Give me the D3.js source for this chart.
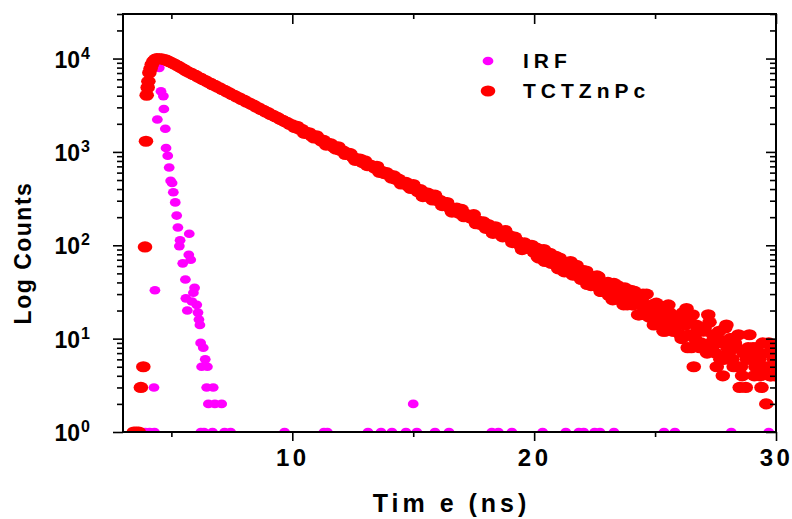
<!DOCTYPE html>
<html>
<head>
<meta charset="utf-8">
<script src="https://cdn.jsdelivr.net/npm/d3@7"></script>
<style>
  body { margin: 0; background: #fff; }
  svg { display: block; }
  text { font-family: "Liberation Sans", Arial, sans-serif; font-weight: bold; fill: #000; }
</style>
</head>
<body>
<div id="chart"></div>
<script>
// axis setup
const xDomain = [3, 30];
const yDomain = [1, 30000];
const xMajorTicks = [10, 20, 30];
const xMinorTicks = [5, 15, 25];
const yDecades = [1, 10, 100, 1000, 10000];
const yExponents = ['0', '1', '2', '3', '4'];
const yMinorTicks = [2, 3, 4, 5, 6, 7, 8, 9,
    20, 30, 40, 50, 60, 70, 80, 90,
    200, 300, 400, 500, 600, 700, 800, 900,
    2000, 3000, 4000, 5000, 6000, 7000, 8000, 9000,
    20000, 30000];

const seriesNames = ['IRF', 'TCTZnPc'];
const seriesColors = ['#ff00ff', '#ff0000'];

// IRF: [time ns, counts]
const irfData = [
    [3.92, 1], [4.10, 1], [4.30, 1], [4.28, 3], [4.32, 33], [4.42, 2220], [4.50, 7950],
    [4.57, 4470], [4.67, 3960], [4.69, 2880], [4.75, 1770], [4.78, 1100], [4.85, 910],
    [4.91, 680], [4.97, 490], [5.03, 465], [5.08, 370], [5.16, 288], [5.22, 208],
    [5.27, 155], [5.33, 98], [5.36, 113], [5.47, 64], [5.58, 43], [5.60, 27], [5.66, 20],
    [5.72, 79], [5.74, 133], [5.80, 70], [5.85, 25], [5.91, 31], [5.96, 35], [6.05, 23],
    [6.10, 19], [6.14, 16], [6.18, 14], [6.21, 9], [6.25, 5], [6.32, 8], [6.40, 6],
    [6.46, 3], [6.49, 5], [6.53, 2], [6.73, 3], [6.80, 2], [7.08, 2],
    [6.22, 1], [6.35, 1], [6.70, 1], [7.20, 1], [7.45, 1], [9.68, 1], [11.31, 1],
    [11.45, 1], [13.13, 1], [13.67, 1], [14.12, 1], [14.70, 1], [15.00, 2], [15.15, 1],
    [15.90, 1], [16.48, 1], [18.25, 1], [18.52, 1], [19.08, 1], [20.35, 1], [21.31, 1],
    [21.85, 1], [22.05, 1], [22.50, 1], [22.72, 1], [23.30, 1], [25.37, 1], [25.82, 1],
    [28.15, 1], [29.70, 1]
];

// TCTZnPc decay: [time ns, counts]
const tctData = [
    [3.45, 1], [3.55, 1], [3.65, 1], [3.74, 3], [3.84, 5], [3.91, 96], [3.95, 1300],
    [3.98, 4050], [4.02, 4900], [4.05, 5700], [4.09, 7050], [4.14, 7800], [4.19, 8650],
    [4.26, 9350], [4.33, 9800],
    [4.4, 10000], [4.5, 9950], [4.6, 9900], [4.7, 9750], [4.8, 9600], [4.9, 9300],
    [5.0, 9050], [5.1, 8800], [5.2, 8500], [5.3, 8250], [5.4, 7950], [5.5, 7700],
    [5.6, 7400], [5.7, 7150], [5.8, 6990], [5.9, 6740],
    [6.0, 6600], [6.1, 6330], [6.2, 6180], [6.3, 5950], [6.4, 5820], [6.5, 5590], [6.6, 5470], [6.7, 5250], [6.8, 5150], [6.9, 4940],
    [7.0, 4850], [7.1, 4660], [7.2, 4560], [7.3, 4390], [7.4, 4290], [7.5, 4110], [7.6, 4030], [7.7, 3880], [7.8, 3800], [7.9, 3640],
    [8.0, 3580], [8.1, 3430], [8.2, 3360], [8.3, 3230], [8.4, 3170], [8.5, 3030], [8.6, 2970], [8.7, 2850], [8.8, 2790], [8.9, 2680],
    [9.0, 2630], [9.1, 2520], [9.2, 2470], [9.3, 2380], [9.4, 2330], [9.5, 2230], [9.6, 2180], [9.7, 2100], [9.8, 2060], [9.9, 1970],
    [10.0, 1946], [10.1, 1819], [10.2, 1883], [10.3, 1745], [10.4, 1739], [10.5, 1578], [10.6, 1606], [10.7, 1603], [10.8, 1479], [10.9, 1409],
    [11.0, 1487], [11.1, 1383], [11.2, 1304], [11.3, 1327], [11.4, 1183], [11.5, 1231], [11.6, 1218], [11.7, 1130], [11.8, 1072], [11.9, 1136],
    [12.0, 1037], [12.1, 1025], [12.2, 938], [12.3, 971], [12.4, 958], [12.5, 879], [12.6, 812], [12.7, 838], [12.8, 838], [12.9, 769],
    [13.0, 804], [13.1, 714], [13.2, 725], [13.3, 711], [13.4, 670], [13.5, 702], [13.6, 605], [13.7, 620], [13.8, 585], [13.9, 599],
    [14.0, 569], [14.1, 524], [14.2, 554], [14.3, 506], [14.4, 510], [14.5, 453], [14.6, 468], [14.7, 471], [14.8, 428], [14.9, 406],
    [15.0, 447], [15.1, 404], [15.2, 374], [15.3, 394], [15.4, 332], [15.5, 361], [15.6, 362], [15.7, 326], [15.8, 306], [15.9, 344],
    [16.0, 301], [16.1, 303], [16.2, 266], [16.3, 287], [16.4, 287], [16.5, 254], [16.6, 227], [16.7, 244], [16.8, 250], [16.9, 220],
    [17.0, 242], [17.1, 202], [17.2, 213], [17.3, 209], [17.4, 194], [17.5, 213], [17.6, 170], [17.7, 181], [17.8, 167], [17.9, 178],
    [18.0, 152], [18.1, 167], [18.2, 155], [18.3, 134], [18.4, 158], [18.5, 136], [18.6, 141], [18.7, 123], [18.8, 144], [18.9, 123],
    [19.0, 126], [19.1, 107], [19.2, 122], [19.3, 111], [19.4, 101], [19.5, 90], [19.6, 106], [19.7, 100], [19.8, 92], [19.9, 100],
    [20.0, 84], [20.1, 93], [20.2, 73], [20.3, 82], [20.4, 90], [20.5, 70], [20.6, 73], [20.7, 64], [20.8, 74], [20.9, 76],
    [21.0, 56], [21.1, 65], [21.2, 66], [21.3, 56], [21.4, 56], [21.5, 67], [21.6, 48], [21.7, 54], [21.8, 47], [21.9, 50],
    [22.0, 54], [22.1, 44], [22.2, 38], [22.3, 47], [22.4, 43], [22.5, 37], [22.6, 47], [22.7, 38], [22.8, 32], [22.9, 39],
    [23.0, 39], [23.1, 29], [23.2, 33], [23.3, 39], [23.4, 29], [23.5, 29], [23.6, 33], [23.7, 23], [23.8, 28], [23.9, 24],
    [24.0, 33], [24.1, 23], [24.2, 25], [24.3, 18], [24.4, 27], [24.5, 30], [24.6, 18], [24.7, 21], [24.8, 18], [24.9, 23],
    [25.0, 15], [25.1, 20], [25.2, 17], [25.3, 22], [25.4, 12], [25.5, 17], [25.6, 19], [25.7, 13], [25.8, 12], [25.9, 17],
    [26.0, 16], [26.1, 10], [26.2, 17], [26.3, 21], [26.4, 11], [26.5, 8], [26.6, 5], [26.7, 14], [26.8, 9], [26.9, 9],
    [27.0, 12], [27.1, 8], [27.2, 18], [27.3, 9], [27.4, 11], [27.5, 7], [27.6, 10], [27.7, 6], [27.8, 4], [27.9, 13],
    [28.0, 8], [28.1, 10], [28.2, 6], [28.3, 9], [28.4, 5], [28.5, 3], [28.6, 4], [28.7, 7], [28.8, 6], [28.9, 11],
    [29.0, 7], [29.1, 4], [29.2, 8], [29.3, 6], [29.4, 3], [29.5, 5], [29.6, 2], [29.7, 9], [29.8, 4], [29.9, 6],
    [30.0, 5],
    // in-between channels of the noisy tail
    [20.05, 91], [20.15, 75], [20.25, 89], [20.35, 76], [20.45, 67], [20.55, 80], [20.65, 82], [20.75, 66], [20.85, 69], [20.95, 60],
    [21.05, 73], [21.15, 59], [21.25, 52], [21.35, 62], [21.45, 63], [21.55, 50], [21.65, 55], [21.75, 61], [21.85, 49], [21.95, 43],
    [22.05, 43], [22.15, 53], [22.25, 46], [22.35, 37], [22.45, 46], [22.55, 39], [22.65, 46], [22.75, 32], [22.85, 37], [22.95, 39],
    [23.05, 40], [23.15, 32], [23.25, 26], [23.35, 34], [23.45, 37], [23.55, 26], [23.65, 29], [23.75, 35], [23.85, 23], [23.95, 28],
    [24.05, 23], [24.15, 32], [24.25, 25], [24.35, 18], [24.45, 26], [24.55, 21], [24.65, 30], [24.75, 17], [24.85, 22], [24.95, 14],
    [25.05, 24], [25.15, 15], [25.25, 19], [25.35, 12], [25.45, 20], [25.55, 23], [25.65, 14], [25.75, 12], [25.85, 17], [25.95, 14],
    [26.05, 11], [26.15, 19], [26.25, 14], [26.35, 8], [26.45, 15], [26.55, 18], [26.65, 10], [26.75, 12], [26.85, 8], [26.95, 13],
    [27.05, 13], [27.15, 7], [27.25, 15], [27.35, 8], [27.45, 10], [27.55, 5], [27.65, 12], [27.75, 9], [27.85, 6], [27.95, 14],
    [28.05, 7], [28.15, 10], [28.25, 5], [28.35, 8], [28.45, 11], [28.55, 5], [28.65, 7], [28.75, 3], [28.85, 8], [28.95, 6],
    [29.05, 8], [29.15, 5], [29.25, 7], [29.35, 4], [29.45, 9], [29.55, 5], [29.65, 7], [29.75, 4], [29.85, 8], [29.95, 4]
];

const width = 792;
const height = 519;
const plot = { left: 123, right: 776, top: 14, bottom: 432 };

const svg = d3.select('#chart')
    .append('svg')
    .attr('width', width)
    .attr('height', height);

const xScale = d3.scaleLinear().domain(xDomain).range([plot.left, plot.right]);
const yScale = d3.scaleLog().domain(yDomain).range([plot.bottom, plot.top]);

svg.append('clipPath')
    .attr('id', 'plot-clip')
    .append('rect')
    .attr('x', plot.left)
    .attr('y', plot.top)
    .attr('width', plot.right - plot.left)
    .attr('height', plot.bottom - plot.top);

// scatter points, IRF underneath
const dots = svg.append('g').attr('clip-path', 'url(#plot-clip)');

dots.selectAll('ellipse.irf')
    .data(irfData)
    .join('ellipse')
    .attr('class', 'irf')
    .attr('cx', d => xScale(d[0]))
    .attr('cy', d => yScale(d[1]))
    .attr('rx', 5.4)
    .attr('ry', 4.3)
    .attr('fill', seriesColors[0]);

dots.selectAll('ellipse.tct')
    .data(tctData)
    .join('ellipse')
    .attr('class', 'tct')
    .attr('cx', d => xScale(d[0]))
    .attr('cy', d => yScale(d[1]))
    .attr('rx', 7.3)
    .attr('ry', 5.6)
    .attr('fill', seriesColors[1]);

// axes: ticks out on left/bottom, in on top/right
function cleanAxis(g) {
    g.select('.domain').remove();
    g.selectAll('.tick line').attr('stroke', '#000').attr('stroke-width', 1.6);
}

svg.append('g')
    .attr('transform', `translate(0, ${plot.bottom})`)
    .call(d3.axisBottom(xScale).tickValues(xMinorTicks).tickSize(5).tickFormat(''))
    .call(cleanAxis);

const xAxis = svg.append('g')
    .attr('transform', `translate(0, ${plot.bottom})`)
    .call(d3.axisBottom(xScale).tickValues(xMajorTicks).tickSize(9).tickPadding(8).tickFormat(d3.format('d')))
    .call(cleanAxis);

xAxis.selectAll('.tick text')
    .attr('fill', '#000')
    .attr('font-family', null)
    .attr('font-size', null)
    .style('font-size', '24px')
    .style('letter-spacing', '3.5px');

svg.append('g')
    .attr('transform', `translate(0, ${plot.top})`)
    .call(d3.axisBottom(xScale).tickValues(xMinorTicks).tickSize(5).tickFormat(''))
    .call(cleanAxis);

svg.append('g')
    .attr('transform', `translate(0, ${plot.top})`)
    .call(d3.axisBottom(xScale).tickValues(xMajorTicks).tickSize(10).tickFormat(''))
    .call(cleanAxis);

svg.append('g')
    .attr('transform', `translate(${plot.left}, 0)`)
    .call(d3.axisLeft(yScale).tickValues(yMinorTicks).tickSize(6).tickFormat(''))
    .call(cleanAxis);

svg.append('g')
    .attr('transform', `translate(${plot.left}, 0)`)
    .call(d3.axisLeft(yScale).tickValues(yDecades).tickSize(10).tickFormat(''))
    .call(cleanAxis);

svg.append('g')
    .attr('transform', `translate(${plot.right}, 0)`)
    .call(d3.axisLeft(yScale).tickValues(yMinorTicks).tickSize(6).tickFormat(''))
    .call(cleanAxis);

svg.append('g')
    .attr('transform', `translate(${plot.right}, 0)`)
    .call(d3.axisLeft(yScale).tickValues(yDecades).tickSize(10).tickFormat(''))
    .call(cleanAxis);

// y tick labels as 10 with superscript exponent
const yLabels = svg.append('g').attr('class', 'y-labels');
yDecades.forEach((d, i) => {
    const t = yLabels.append('text')
        .attr('x', 90)
        .attr('y', yScale(d) + 9)
        .attr('text-anchor', 'end')
        .style('font-size', '23px');
    t.append('tspan').text('10');
    t.append('tspan')
        .attr('dx', 1)
        .attr('dy', -9)
        .style('font-size', '16px')
        .text(yExponents[i]);
});

// frame
svg.append('rect')
    .attr('x', plot.left)
    .attr('y', plot.top)
    .attr('width', plot.right - plot.left)
    .attr('height', plot.bottom - plot.top)
    .attr('fill', 'none')
    .attr('stroke', '#000')
    .attr('stroke-width', 2);

// axis titles
svg.append('text')
    .attr('x', (plot.left + plot.right) / 2 + 2)
    .attr('y', 512)
    .attr('text-anchor', 'middle')
    .style('font-size', '25px')
    .style('letter-spacing', '4px')
    .text('Tim e (ns)');

svg.append('text')
    .attr('transform', 'translate(31, 253) rotate(-90)')
    .attr('text-anchor', 'middle')
    .style('font-size', '23px')
    .style('letter-spacing', '1.5px')
    .text('Log Counts');

// legend
const legend = svg.append('g').attr('class', 'legend');
const legendItem = legend.selectAll('.legend-item')
    .data(seriesNames)
    .join('g')
    .attr('class', 'legend-item')
    .attr('transform', (d, i) => `translate(488, ${61 + i * 30})`);

legendItem.append('ellipse')
    .attr('rx', (d, i) => i === 0 ? 5.4 : 7.3)
    .attr('ry', (d, i) => i === 0 ? 4.3 : 5.6)
    .attr('fill', (d, i) => seriesColors[i]);

legendItem.append('text')
    .attr('x', 35)
    .attr('y', 7)
    .style('font-size', '21px')
    .style('letter-spacing', '5px')
    .text(d => d);
</script>
</body>
</html>
